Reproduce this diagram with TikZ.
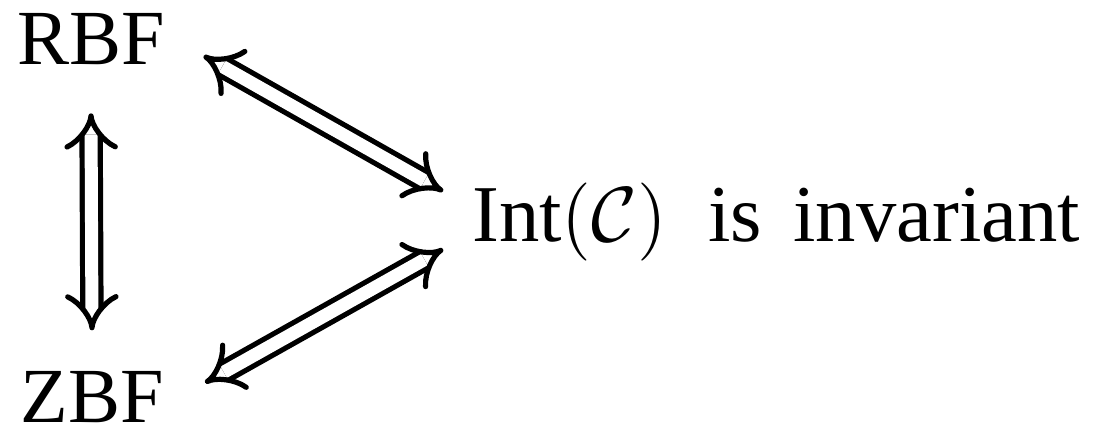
\documentclass[tikz,border=0pt]{standalone}
\usepackage{fontspec}
\setmainfont{Liberation Serif}
\usepackage{tikz}
\usetikzlibrary{arrows.meta,positioning,calc}

\begin{document}
\begin{tikzpicture}[
        x=0.1538pt, y=-0.1538pt,
        font=\fontsize{12}{14}\selectfont,
        % --- node style ---
        term/.style={inner sep=0pt, anchor=base},
        % --- edge style ---
        equiv/.style={double, double distance=2pt, line width=0.8pt,
            {Implies[scale=1.1]}-{Implies[scale=1.1]}}
    ]
    \useasboundingbox (0,0) rectangle (1093,435);

    % --- nodes ---
    \node[term] (rbf) at (91, 65) {RBF};
    \node[term] (zbf) at (92, 423) {ZBF};
    \node[term, anchor=base west, font=\fontsize{12.4}{14}\selectfont] (inv) at (471, 242)
        {\(\mathrm{Int}(\mathcal{C})\)\hspace{6.4pt}is\hspace{4.8pt}invariant};

    % --- equivalences ---
    \draw[equiv] ([yshift=-7.2pt]rbf.south) -- ([yshift=6.2pt]zbf.north);
    \draw[equiv] ([shift={(5.8pt,1.4pt)}]rbf.base east)
        -- ([shift={(-4.3pt,7.8pt)}]inv.base west);
    \draw[equiv] ([shift={(6.2pt,6.2pt)}]zbf.base east)
        -- ([shift={(-4.3pt,-1.1pt)}]inv.base west);
\end{tikzpicture}
\end{document}
